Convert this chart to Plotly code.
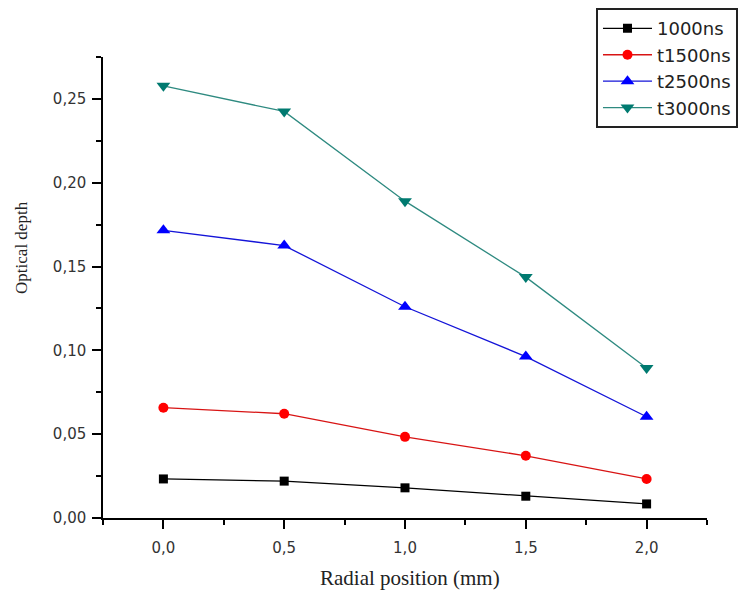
import plotly.graph_objects as go

radial_mm = [0.0, 0.5, 1.0, 1.5, 2.0]
series_names = ["1000ns", "t1500ns", "t2500ns", "t3000ns"]
od_1000 = [0.0233, 0.0220, 0.0180, 0.0130, 0.0084]
od_1500 = [0.0658, 0.0622, 0.0484, 0.0371, 0.0233]
od_2500 = [0.1716, 0.1625, 0.1260, 0.0963, 0.0604]
od_3000 = [0.2578, 0.2425, 0.1890, 0.1437, 0.0895]

x_ticks = [0.0, 0.5, 1.0, 1.5, 2.0]
y_ticks = [0.00, 0.05, 0.10, 0.15, 0.20, 0.25]

styles = [
    dict(line="#000000", marker="#000000", symbol="square", size=9),
    dict(line="#D81414", marker="#FF0000", symbol="circle", size=10),
    dict(line="#1414D8", marker="#0000FF", symbol="triangle-up", size=12),
    dict(line="#2E8A80", marker="#007A70", symbol="triangle-down", size=12),
]
values = [od_1000, od_1500, od_2500, od_3000]

fig = go.Figure()
for name, vals, st in zip(series_names, values, styles):
    fig.add_trace(go.Scatter(
        x=radial_mm, y=vals, name=name, mode="lines+markers",
        line=dict(color=st["line"], width=1.3),
        marker=dict(color=st["marker"], symbol=st["symbol"], size=st["size"], line=dict(width=0)),
    ))

tick_font = dict(family="DejaVu Sans", size=15, color="#333333")
fig.update_layout(
    width=742, height=595,
    margin=dict(l=103, r=35, t=57, b=77, autoexpand=False),
    paper_bgcolor="white", plot_bgcolor="white",
    separators=", ",
    showlegend=True,
    legend=dict(
        x=0.8162, y=1.106, xanchor="left", yanchor="top",
        bgcolor="white", bordercolor="#222222", borderwidth=2,
        font=dict(family="DejaVu Sans", size=18, color="#222222"),
        itemwidth=49, tracegroupgap=0,
    ),
    xaxis=dict(
        range=[-0.25, 2.25], tickmode="array", tickvals=x_ticks,
        tickformat=".1f", ticks="outside", ticklen=9, tickwidth=1.5, tickcolor="#000",
        showline=True, linecolor="#000", linewidth=1.5, showgrid=False, zeroline=False,
        tickfont=tick_font, ticklabelstandoff=6, automargin=False,
        minor=dict(dtick=0.25, tick0=0, ticks="outside", ticklen=5, tickwidth=1.5, tickcolor="#000", showgrid=False),
    ),
    yaxis=dict(
        range=[0, 0.275], tickmode="array", tickvals=y_ticks,
        tickformat=".2f", ticks="outside", ticklen=9, tickwidth=1.5, tickcolor="#000",
        showline=True, linecolor="#000", linewidth=1.5, showgrid=False, zeroline=False,
        tickfont=tick_font, ticklabelstandoff=3, automargin=False,
        minor=dict(dtick=0.025, tick0=0, ticks="outside", ticklen=5, tickwidth=1.5, tickcolor="#000", showgrid=False),
    ),
    annotations=[
        dict(text="Radial position (mm)", xref="paper", yref="paper", x=0.508, y=-0.130,
             xanchor="center", yanchor="middle", showarrow=False,
             font=dict(family="Liberation Serif", size=21, color="#222222")),
        dict(text="Optical depth", xref="paper", yref="paper", x=-0.134, y=0.586,
             xanchor="center", yanchor="middle", showarrow=False, textangle=-90,
             font=dict(family="Liberation Serif", size=17, color="#222222")),
    ],
)

fig.write_html("out.html")
